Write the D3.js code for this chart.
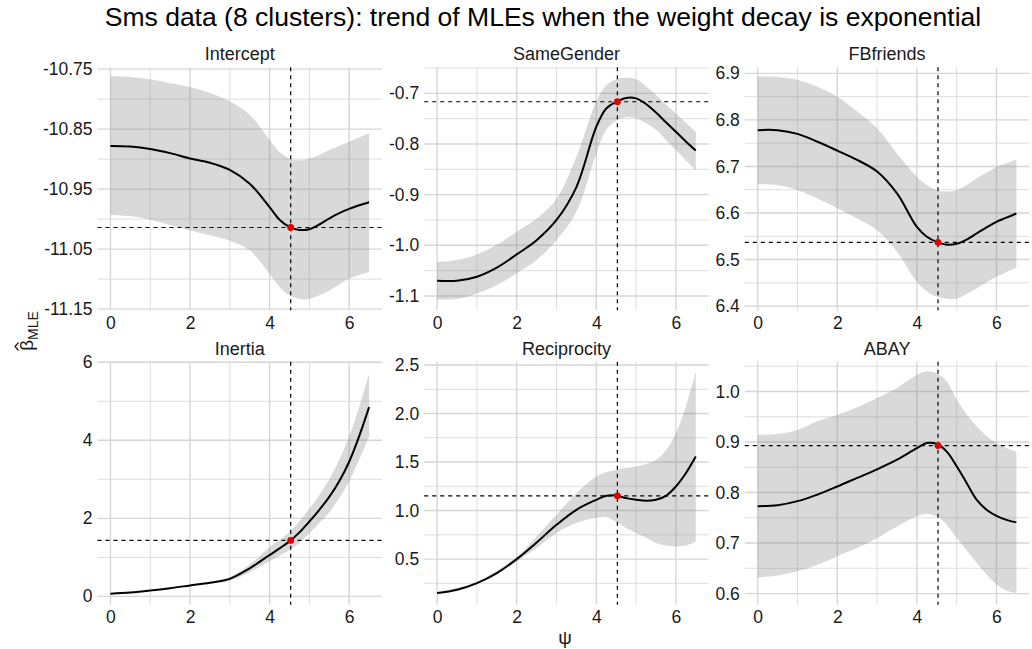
<!DOCTYPE html>
<meta charset="utf-8">
<script src="https://d3js.org/d3.v7.min.js"></script>
<style>
  body { margin: 0; background: #fff; }
  text { font-family: "Liberation Sans", Arial, sans-serif; }
</style>
<body>
<div id="chart"></div>
<script>
var psi = [0, 0.5, 1, 1.5, 2, 2.5, 3, 3.5, 4, 4.25, 4.5, 4.75, 5, 5.25, 5.5, 5.75, 6, 6.25, 6.5];

var panelNames = ["Intercept", "SameGender", "FBfriends", "Inertia", "Reciprocity", "ABAY"];

var mleIntercept = [-10.878,-10.879,-10.883,-10.890,-10.899,-10.906,-10.918,-10.941,-10.980,-11.001,-11.013,-11.018,-11.017,-11.009,-10.999,-10.990,-10.983,-10.977,-10.972];
var upIntercept  = [-10.762,-10.763,-10.767,-10.773,-10.780,-10.790,-10.804,-10.826,-10.868,-10.888,-10.899,-10.902,-10.899,-10.893,-10.885,-10.878,-10.871,-10.864,-10.857];
var lowIntercept = [-10.993,-10.995,-11.001,-11.010,-11.019,-11.027,-11.036,-11.052,-11.091,-11.113,-11.127,-11.133,-11.133,-11.127,-11.119,-11.109,-11.099,-11.093,-11.088];

var mleSameGender = [-1.070,-1.070,-1.062,-1.044,-1.018,-0.990,-0.950,-0.885,-0.766,-0.730,-0.717,-0.709,-0.710,-0.721,-0.738,-0.757,-0.776,-0.795,-0.813];
var upSameGender  = [-1.033,-1.029,-1.018,-0.999,-0.973,-0.947,-0.908,-0.825,-0.716,-0.684,-0.672,-0.669,-0.672,-0.686,-0.703,-0.722,-0.740,-0.758,-0.776];
var lowSameGender = [-1.107,-1.106,-1.095,-1.079,-1.055,-1.029,-0.990,-0.934,-0.819,-0.772,-0.754,-0.747,-0.749,-0.759,-0.772,-0.792,-0.812,-0.832,-0.852];

var mleFBfriends = [6.778,6.778,6.770,6.753,6.734,6.714,6.689,6.642,6.570,6.549,6.538,6.532,6.534,6.543,6.556,6.569,6.581,6.590,6.599];
var upFBfriends  = [6.893,6.892,6.886,6.871,6.850,6.818,6.782,6.728,6.678,6.660,6.649,6.646,6.649,6.660,6.674,6.687,6.699,6.707,6.715];
var lowFBfriends = [6.662,6.660,6.649,6.631,6.610,6.588,6.563,6.517,6.452,6.432,6.420,6.416,6.416,6.426,6.438,6.451,6.463,6.473,6.483];

var mleInertia = [0.07,0.10,0.15,0.21,0.28,0.35,0.45,0.72,1.06,1.23,1.41,1.64,1.92,2.22,2.55,2.95,3.45,4.10,4.85];
var upInertia  = [0.07,0.10,0.15,0.22,0.29,0.37,0.50,0.82,1.26,1.45,1.65,1.92,2.25,2.60,3.00,3.50,4.10,4.85,5.70];
var lowInertia = [0.07,0.10,0.15,0.20,0.27,0.33,0.40,0.62,0.90,1.04,1.18,1.37,1.61,1.88,2.15,2.52,2.95,3.50,4.10];

var mleReciprocity = [0.150,0.184,0.253,0.356,0.500,0.671,0.853,1.008,1.111,1.152,1.155,1.128,1.111,1.100,1.111,1.152,1.248,1.385,1.557];
var upReciprocity  = [0.157,0.205,0.263,0.380,0.521,0.733,0.956,1.179,1.351,1.395,1.419,1.440,1.454,1.480,1.522,1.620,1.797,2.071,2.431];
var lowReciprocity = [0.143,0.170,0.243,0.340,0.476,0.613,0.768,0.871,0.925,0.935,0.885,0.820,0.768,0.720,0.665,0.640,0.630,0.640,0.682];

var mleABAY = [0.773,0.775,0.783,0.796,0.812,0.829,0.846,0.865,0.888,0.898,0.896,0.881,0.852,0.819,0.786,0.766,0.754,0.746,0.741];
var upABAY  = [0.914,0.916,0.924,0.941,0.954,0.969,0.987,1.007,1.033,1.040,1.036,1.020,0.984,0.955,0.931,0.912,0.898,0.888,0.881];
var lowABAY = [0.632,0.636,0.644,0.657,0.674,0.690,0.710,0.733,0.753,0.758,0.753,0.736,0.710,0.686,0.661,0.638,0.618,0.606,0.601];

// chosen psi and the MLE there
var psiOpt = 4.53;
var mleOpt = [-11.014, -0.7166, 6.537, 1.434, 1.152, 0.893];

// axis breaks
var xBreaks = [0, 2, 4, 6];
var yBreaks = [
  [-10.75, -10.85, -10.95, -11.05, -11.15],
  [-0.7, -0.8, -0.9, -1.0, -1.1],
  [6.4, 6.5, 6.6, 6.7, 6.8, 6.9],
  [0, 2, 4, 6],
  [0.5, 1.0, 1.5, 2.0, 2.5],
  [0.6, 0.7, 0.8, 0.9, 1.0]
];
var yFormats = [".2f", ".1f", ".1f", "d", ".1f", ".1f"];
var yDomains = [
  [-11.152, -10.747],
  [-1.1283, -0.6486],
  [6.391, 6.913],
  [-0.213, 6.015],
  [0.030, 2.534],
  [0.578, 1.059]
];

var mles = [mleIntercept, mleSameGender, mleFBfriends, mleInertia, mleReciprocity, mleABAY];
var ups = [upIntercept, upSameGender, upFBfriends, upInertia, upReciprocity, upABAY];
var lows = [lowIntercept, lowSameGender, lowFBfriends, lowInertia, lowReciprocity, lowABAY];

var W = 1032, H = 649;
var colLeft = [97.5, 424.2, 744.8], rowTop = [67.3, 361.7];
var pw = 284.5, ph = 243;
var gridCol = "#d6d6d6";
var txtCol = "#1a1a1a";

var svg = d3.select("#chart").append("svg")
  .attr("width", W).attr("height", H);

svg.append("text")
  .attr("x", 543).attr("y", 26)
  .attr("text-anchor", "middle")
  .style("font-size", "26.5px")
  .attr("fill", "#000")
  .text("Sms data (8 clusters): trend of MLEs when the weight decay is exponential");

function minorsOf(br, dom) {
  var s = br.slice().sort(d3.ascending);
  var step = s[1] - s[0];
  var out = [];
  for (var i = -1; i < s.length; i++) {
    var m = s[0] + step * (i + 0.5);
    if (m >= dom[0] && m <= dom[1]) out.push(m);
  }
  return out;
}

panelNames.forEach(function(name, i) {
  var left = colLeft[i % 3], top = rowTop[Math.floor(i / 3)];
  var g = svg.append("g").attr("transform", "translate(" + left + "," + top + ")");

  var x = d3.scaleLinear().domain([-0.325, 6.825]).range([0, pw]);
  var y = d3.scaleLinear().domain(yDomains[i]).range([ph, 0]);

  // grid
  var xMin = minorsOf(xBreaks, x.domain());
  var yMin = minorsOf(yBreaks[i], yDomains[i]);
  g.selectAll(".vmin").data(xMin).enter().append("line")
    .attr("x1", x).attr("x2", x).attr("y1", 0).attr("y2", ph)
    .attr("stroke", gridCol).attr("stroke-width", 0.8);
  g.selectAll(".hmin").data(yMin).enter().append("line")
    .attr("y1", y).attr("y2", y).attr("x1", 0).attr("x2", pw)
    .attr("stroke", gridCol).attr("stroke-width", 0.8);
  g.selectAll(".vmaj").data(xBreaks).enter().append("line")
    .attr("x1", x).attr("x2", x).attr("y1", 0).attr("y2", ph)
    .attr("stroke", gridCol).attr("stroke-width", 1.4);
  g.selectAll(".hmaj").data(yBreaks[i]).enter().append("line")
    .attr("y1", y).attr("y2", y).attr("x1", 0).attr("x2", pw)
    .attr("stroke", gridCol).attr("stroke-width", 1.4);

  var rows = psi.map(function(p, k) {
    return { psi: p, mle: mles[i][k], lo: lows[i][k], hi: ups[i][k] };
  });

  g.append("path").datum(rows)
    .attr("fill", "#808080").attr("fill-opacity", 0.3)
    .attr("d", d3.area()
      .curve(d3.curveCatmullRom)
      .x(function(d) { return x(d.psi); })
      .y0(function(d) { return y(d.lo); })
      .y1(function(d) { return y(d.hi); }));

  g.append("path").datum(rows)
    .attr("fill", "none").attr("stroke", "#000").attr("stroke-width", 2)
    .attr("d", d3.line()
      .curve(d3.curveCatmullRom)
      .x(function(d) { return x(d.psi); })
      .y(function(d) { return y(d.mle); }));

  // reference lines at the optimum
  g.append("line")
    .attr("x1", x(psiOpt)).attr("x2", x(psiOpt)).attr("y1", 0).attr("y2", ph)
    .attr("stroke", "#000").attr("stroke-width", 1.2).attr("stroke-dasharray", "4,4");
  g.append("line")
    .attr("x1", 0).attr("x2", pw).attr("y1", y(mleOpt[i])).attr("y2", y(mleOpt[i]))
    .attr("stroke", "#000").attr("stroke-width", 1.2).attr("stroke-dasharray", "4,4");
  g.append("circle")
    .attr("cx", x(psiOpt)).attr("cy", y(mleOpt[i])).attr("r", 3.4)
    .attr("fill", "#e00000");

  // axes (plain hyphen for negatives, like the original)
  var fmt = d3.format(yFormats[i]);
  var ax = g.append("g").attr("transform", "translate(0," + ph + ")")
    .call(d3.axisBottom(x).tickValues(xBreaks).tickFormat(d3.format("d")).tickSize(0).tickPadding(6));
  var ay = g.append("g")
    .call(d3.axisLeft(y).tickValues(yBreaks[i])
      .tickFormat(function(d) { return fmt(d).replace("\u2212", "-"); })
      .tickSize(0).tickPadding(5));
  [ax, ay].forEach(function(a) {
    a.select(".domain").remove();
    a.selectAll("text").style("font-size", "17.5px").attr("fill", txtCol)
      .style("font-family", "'Liberation Sans', Arial, sans-serif");
  });

  g.append("text")
    .attr("x", pw / 2).attr("y", -7)
    .attr("text-anchor", "middle")
    .style("font-size", "18px").attr("fill", txtCol)
    .text(name);
});

// y label: beta hat with MLE subscript
var yl = svg.append("g").attr("transform", "translate(33,331) rotate(-90)");
var ylt = yl.append("text").attr("text-anchor", "middle").style("font-size", "19px").attr("fill", txtCol);
ylt.append("tspan").text("\u03b2");
ylt.append("tspan").attr("dy", 5).style("font-size", "14px").text("MLE");
yl.append("path")
  .attr("d", "M-19.5,-14.5L-15.5,-18L-11.5,-14.5")
  .attr("fill", "none").attr("stroke", txtCol).attr("stroke-width", 1.2);

svg.append("text")
  .attr("x", 565).attr("y", 644)
  .attr("text-anchor", "middle")
  .style("font-size", "19px").attr("fill", txtCol)
  .text("\u03c8");
</script>
</body>
